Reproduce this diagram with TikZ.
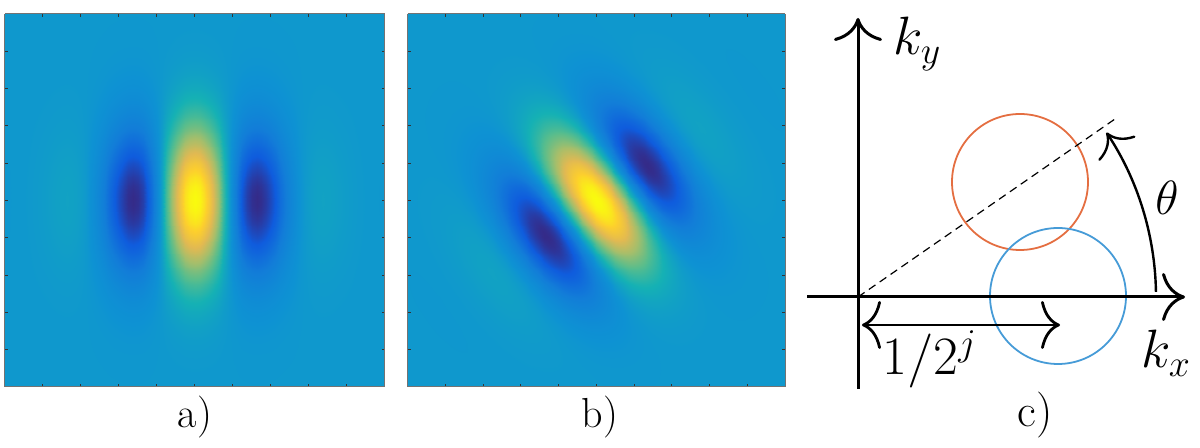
\documentclass[tikz,border=0pt]{standalone}
\usepackage{fix-cm}
\usepackage{pgfplots}
\pgfplotsset{compat=1.18}
\usetikzlibrary{arrows.meta}
\pgfplotsset{colormap={parula}{
  rgb255=(53,42,135) rgb255=(15,92,221) rgb255=(18,125,216) rgb255=(14,146,211)
  rgb255=(21,177,180) rgb255=(89,189,140) rgb255=(165,190,107) rgb255=(225,185,82)
  rgb255=(252,206,46) rgb255=(249,251,14)}}
\definecolor{mlorange}{RGB}{228,110,65}
\definecolor{mlblue}{RGB}{70,155,215}
\pgfplotsset{gaborax/.style={anchor=south west, scale only axis,
  view={0}{90}, colormap name=parula, enlargelimits=false, axis on top,
  point meta min=-0.52, point meta max=0.95,
  xticklabels={}, yticklabels={}, tick align=inside, major tick length=1.6pt,
  axis line style={draw=black!55, line width=0.5pt},
  tick style={draw=black!80, line width=0.5pt},
  ytick={-149.2,-111.9,-74.6,-37.3,0,37.3,74.6,111.9,149.2}}}
\tikzset{
  axisline/.style={line width=1.5pt, -{Computer Modern Rightarrow[length=11.5pt,width=24pt]}},
  dimline/.style={line width=1.4pt, {Computer Modern Rightarrow[length=9.5pt,width=24pt]}-{Computer Modern Rightarrow[length=9.5pt,width=24pt]}},
  anglearc/.style={line width=1.2pt, -{Computer Modern Rightarrow[length=10pt,width=22pt]}},
  ring/.style={line width=0.9pt},
  mathlbl/.style={inner sep=0pt, font=\fontsize{27}{32}\selectfont},
  panellbl/.style={inner sep=0pt, anchor=base, font=\fontsize{21}{25}\selectfont}
}
\begin{document}
\begin{tikzpicture}[x=0.5pt,y=0.5pt]
\useasboundingbox (0,0) rectangle (1200,448);
% panel a
\begin{axis}[gaborax, at={(5,61)}, width=190pt, height=186.5pt,
  xmin=-190, xmax=190, ymin=-186.5, ymax=186.5,
  xtick={-152,-114,-76,-38,0,38,76,114,152}]
\addplot3[surf, shader=interp, domain=-190:190, y domain=-186.5:186.5, samples=81]
  {exp(-(x^2/6272+y^2/5408))*(cos(2.5*x)-0.05)};
\end{axis}
% panel b
\begin{axis}[gaborax, at={(407.7,61)}, width=188.65pt, height=186.5pt,
  xmin=-188.65, xmax=188.65, ymin=-186.5, ymax=186.5,
  xtick={-150.9,-113.2,-75.5,-37.7,0,37.7,75.5,113.2,150.9}]
\addplot3[surf, shader=interp, domain=-188.65:188.65, y domain=-186.5:186.5, samples=81]
  {exp(-((0.81915*x+0.57358*y)^2/6272+(-0.57358*x+0.81915*y)^2/5408))*(cos(2.5*(0.81915*x+0.57358*y))-0.05)};
\end{axis}
\node[panellbl] (la) at (195,20) {a)};
\node[panellbl] (lb) at (600,20) {b)};
\node[panellbl, font=\fontsize{23}{27}\selectfont] (lc) at (1035,21) {c)};
% panel c
\coordinate (O) at (858,151);
\coordinate (xs) at (807,151);
\coordinate (xe) at (1185,151);
\coordinate (ys) at (858,59);
\coordinate (ye) at (858,430);
\coordinate (dend) at (1115,329);
\coordinate (d1) at (862,123);
\coordinate (d2) at (1060,123);
\coordinate (cor) at (1020,266);
\coordinate (cbl) at (1058,152);
\draw[ring, mlorange] (cor) circle[radius=68];
\draw[ring, mlblue] (cbl) circle[radius=68];
\draw[dashed, line width=0.6pt, dash pattern=on 4pt off 2.6pt] (O) -- (dend);
\draw[axisline] (xs) -- (xe);
\draw[axisline] (ys) -- (ye);
\draw[dimline] (d1) -- (d2);
\draw[anglearc] ([shift={(1:298)}]O) arc[start angle=1, end angle=33.5, radius=298];
\node[mathlbl, anchor=base west] (ky) at (893,393) {$k_y$};
\node[mathlbl, anchor=base west] (kx) at (1141,80) {$k_x$};
\node[mathlbl, anchor=base west] (len) at (882,73) {$1/2^j$};
\node[mathlbl, anchor=base west, font=\fontsize{24}{28}\selectfont] (th) at (1155,233) {$\theta$};
\end{tikzpicture}
\end{document}
